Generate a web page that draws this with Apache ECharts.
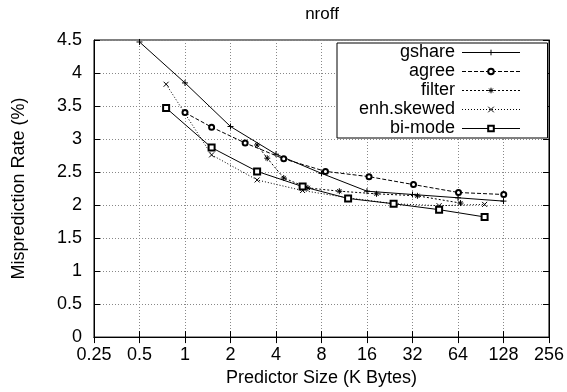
<!DOCTYPE html>
<html>
<head>
<meta charset="utf-8">
<script src="https://cdn.jsdelivr.net/npm/echarts@6/dist/echarts.min.js"></script>
<style>html,body{margin:0;padding:0;background:#fff}#c{width:567px;height:392px}</style>
</head>
<body>
<div id="c"></div>
<script>
// ---- data ----
const xTicks = [0.25, 0.5, 1, 2, 4, 8, 16, 32, 64, 128, 256];
const yTicks = [0, 0.5, 1, 1.5, 2, 2.5, 3, 3.5, 4, 4.5];

const seriesNames = ['gshare', 'agree', 'filter', 'enh.skewed', 'bi-mode'];

const gshareX = [0.5, 1, 2, 4, 8, 16, 32, 64, 128];
const gshareY = [4.47, 3.85, 3.19, 2.77, 2.48, 2.21, 2.16, 2.11, 2.06];

const agreeX = [1, 1.5, 2.5, 4.5, 8.5, 16.5, 32.5, 64.5, 128.5];
const agreeY = [3.40, 3.18, 2.94, 2.70, 2.51, 2.43, 2.31, 2.19, 2.16];

const filterX = [3, 3.5, 4.5, 6.5, 10.5, 18.5, 34.5, 66.5];
const filterY = [2.91, 2.71, 2.41, 2.26, 2.21, 2.17, 2.14, 2.03];

const enhX = [0.75, 1.5, 3, 6, 12, 24, 48, 96];
const enhY = [3.83, 2.76, 2.38, 2.22, 2.11, 2.02, 1.99, 2.01];

const bimodeX = [0.75, 1.5, 3, 6, 12, 24, 48, 96];
const bimodeY = [3.47, 2.87, 2.51, 2.28, 2.10, 2.02, 1.93, 1.82];

// ---- chart ----
const FONT = 'Liberation Sans, Arial, Helvetica, sans-serif';
const pair = (xs, ys) => xs.map((x, i) => [x, ys[i]]);

const plusPath = 'path://M5,0L5,10M0,5L10,5';
const crossPath = 'path://M0,0L10,10M10,0L0,10';
const starPath = 'path://M5,0L5,10M0,5L10,5M1.5,1.5L8.5,8.5M8.5,1.5L1.5,8.5';

function mk(name, xs, ys, symbol, size, dash) {
  return {
    name: name,
    type: 'line',
    data: pair(xs, ys),
    symbol: symbol,
    symbolSize: size,
    showSymbol: true,
    animation: false,
    lineStyle: { color: '#000', width: 1, type: dash },
    itemStyle: { color: '#000', borderColor: '#000', borderWidth: 1 },
    emphasis: { disabled: true },
    z: 3
  };
}

const chart = echarts.init(document.getElementById('c'), null, { renderer: 'canvas' });

const fmt = v => String(Math.round(v * 100) / 100);

const option = {
  animation: false,
  backgroundColor: '#fff',
  textStyle: { fontFamily: FONT, color: '#000' },
  title: {
    text: 'nroff',
    left: 322, top: 6, textAlign: 'center', padding: 0,
    textStyle: { fontFamily: FONT, fontSize: 17, fontWeight: 'normal', color: '#000' }
  },
  grid: {
    left: 94, right: 15, top: 40, bottom: 45,
    show: true, borderColor: '#000', borderWidth: 1, backgroundColor: 'transparent'
  },
  legend: {
    orient: 'vertical',
    left: 337, top: 43,
    align: 'right',
    padding: [0, 27, 0, 4],
    itemGap: 0,
    itemWidth: 58,
    itemHeight: 7,
    backgroundColor: '#fff',
    borderColor: '#000',
    borderWidth: 1,
    borderRadius: 0,
    selectedMode: false,
    data: seriesNames,
    lineStyle: { width: 1 },
    itemStyle: { borderWidth: 1 },
    textStyle: {
      fontFamily: FONT, fontSize: 18, color: '#000',
      width: 114, align: 'right', lineHeight: 19, padding: [0, 2, 0, 0]
    }
  },
  xAxis: [{
    type: 'log', logBase: 2, min: xTicks[0], max: xTicks[xTicks.length - 1], interval: 1,
    position: 'bottom',
    name: 'Predictor Size (K Bytes)', nameLocation: 'middle', nameGap: 29,
    nameTextStyle: { fontFamily: FONT, fontSize: 18, color: '#000' },
    axisLine: { show: true, lineStyle: { color: '#000', width: 1 } },
    axisTick: { show: true, inside: true, length: 6, lineStyle: { color: '#000' } },
    minorTick: { show: false },
    axisLabel: { fontFamily: FONT, fontSize: 18, color: '#000', margin: 9, formatter: fmt },
    splitLine: { show: true, lineStyle: { color: '#888', width: 1, type: [1, 2] } }
  }, {
    type: 'log', logBase: 2, min: xTicks[0], max: xTicks[xTicks.length - 1], interval: 1,
    position: 'top',
    axisLine: { show: true, lineStyle: { color: '#000', width: 1 } },
    axisTick: { show: true, inside: true, length: 6, lineStyle: { color: '#000' } },
    axisLabel: { show: false },
    splitLine: { show: false }
  }],
  yAxis: [{
    type: 'value', min: yTicks[0], max: yTicks[yTicks.length - 1], interval: 0.5,
    position: 'left',
    name: 'Misprediction Rate (%)', nameLocation: 'middle', nameGap: 66,
    nameTextStyle: { fontFamily: FONT, fontSize: 18, color: '#000' },
    axisLine: { show: true, lineStyle: { color: '#000', width: 1 } },
    axisTick: { show: true, inside: true, length: 6, lineStyle: { color: '#000' } },
    axisLabel: { fontFamily: FONT, fontSize: 18, color: '#000', margin: 12, formatter: fmt },
    splitLine: { show: true, lineStyle: { color: '#888', width: 1, type: [1, 2] } }
  }, {
    type: 'value', min: yTicks[0], max: yTicks[yTicks.length - 1], interval: 0.5,
    position: 'right',
    axisLine: { show: true, lineStyle: { color: '#000', width: 1 } },
    axisTick: { show: true, inside: true, length: 6, lineStyle: { color: '#000' } },
    axisLabel: { show: false },
    splitLine: { show: false }
  }],
  series: [
    mk(seriesNames[0], gshareX, gshareY, plusPath, 6, 'solid'),
    mk(seriesNames[1], agreeX, agreeY, 'emptyCircle', 5, [4, 2]),
    mk(seriesNames[2], filterX, filterY, starPath, 6, [2, 2]),
    mk(seriesNames[3], enhX, enhY, crossPath, 5, [1, 2]),
    mk(seriesNames[4], bimodeX, bimodeY, 'emptyRect', 6, 'solid')
  ]
};
chart.setOption(option);
</script>
</body>
</html>
